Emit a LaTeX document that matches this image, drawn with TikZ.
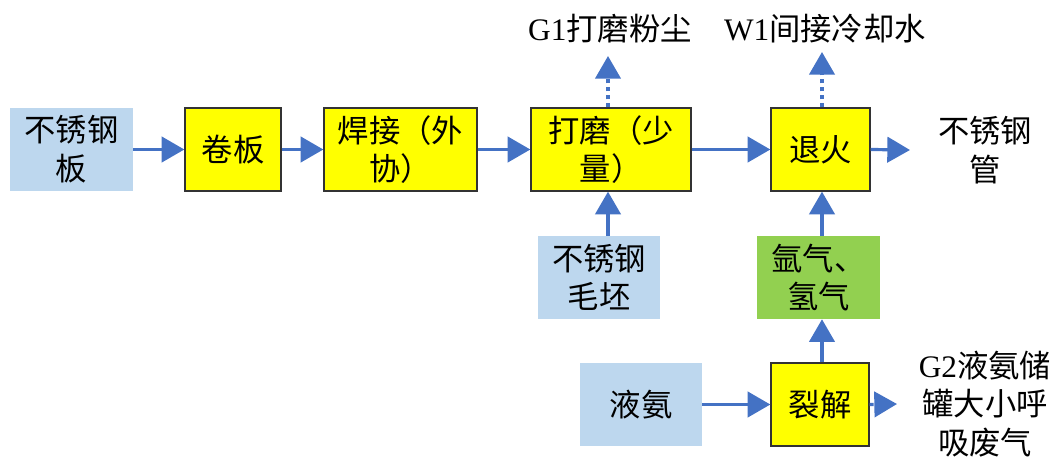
\documentclass[tikz,border=0pt]{standalone}
\usepackage{fontspec}
\setmainfont{Liberation Serif}
\newfontfamily\cjk{Noto Sans CJK SC}
\usetikzlibrary{arrows.meta}
\definecolor{boxblue}{HTML}{BDD7EE}
\definecolor{boxyellow}{HTML}{FFFF00}
\definecolor{boxgreen}{HTML}{92D050}
\definecolor{arrowblue}{HTML}{4472C4}
\begin{document}
\begin{tikzpicture}[x=0.75pt,y=-0.75pt,
  every node/.style={font=\fontsize{23.5}{29}\selectfont\cjk, align=center, inner sep=0pt},
  bluebox/.style={fill=boxblue, minimum height=62.25pt},
  yelbox/.style={fill=boxyellow, draw=black!80, line width=1pt, minimum height=62.25pt},
  grnbox/.style={fill=boxgreen, minimum height=62.25pt},
  flow/.style={draw=arrowblue, line width=2.4pt, -{Triangle[length=17pt,width=19pt]}},
  dflow/.style={flow, dash pattern=on 3pt off 3pt}]
\useasboundingbox (0,0) rectangle (1061,457);
\node[bluebox, minimum width=92.25pt] (raw) at (71.5,149.5) {不锈钢\\板};
\node[yelbox, minimum width=72pt] (juan) at (233,149.5) {卷板};
\node[yelbox, minimum width=114.75pt] (han) at (400.5,149.5) {焊接（外\\协）};
\node[yelbox, minimum width=120pt] (dm) at (611,149.5) {打磨（少\\量）};
\node[yelbox, minimum width=74.25pt] (th) at (820.5,149.5) {退火};
\node (pipe) at (985,150) {不锈钢\\管};
\node[bluebox, minimum width=91.5pt] (mp) at (599,277.5) {不锈钢\\毛坯};
\node[grnbox, minimum width=92.25pt] (gas) at (818.5,277.5) {氩气、\\氢气};
\node[bluebox, minimum width=91.5pt] (ya) at (641,404.5) {液氨};
\node[yelbox, minimum width=73.5pt] (lj) at (820,404.5) {裂解};
\node (g2) at (985,404) {{\rmfamily G2}液氨储\\罐大小呼\\吸废气};
\node (g1) at (610,29) {{\rmfamily G1}打磨粉尘};
\node (w1) at (825,29) {{\rmfamily W1}间接冷却水};
\coordinate (g1a) at (608,56);
\coordinate (w1a) at (822,52);
\coordinate (g2a) at (897,404);
\coordinate (pipea) at (910,150);
\draw[flow] (raw.east) -- (juan.west);
\draw[flow] (juan.east) -- (han.west);
\draw[flow] (han.east) -- (dm.west);
\draw[flow] (dm.east) -- (th.west);
\draw[flow] (th.east) -- (pipea);
\draw[flow] (mp.north -| g1a) -- (dm.south -| g1a);
\draw[flow] (gas.north -| w1a) -- (th.south -| w1a);
\draw[flow] (lj.north -| w1a) -- (gas.south -| w1a);
\draw[flow] (ya.east) -- (lj.west);
\draw[dflow] (dm.north -| g1a) -- (g1a);
\draw[dflow] (th.north -| w1a) -- (w1a);
\draw[dflow] (lj.east) -- (g2a);
\end{tikzpicture}
\end{document}
